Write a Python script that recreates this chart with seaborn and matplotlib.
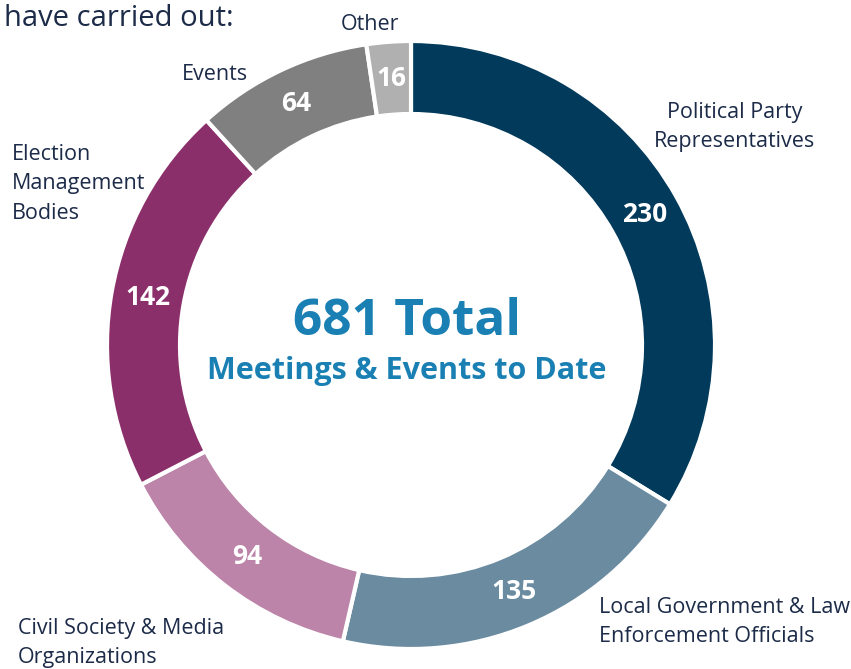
import matplotlib
matplotlib.use("Agg")
import matplotlib.pyplot as plt
import seaborn as sns
import numpy as np

categories = ["Political Party\nRepresentatives",
              "Local Government & Law\nEnforcement Officials",
              "Civil Society & Media\nOrganizations",
              "Election\nManagement\nBodies",
              "Events",
              "Other"]
values = [230, 135, 94, 142, 64, 16]
colors = ["#023a5c", "#6a8ba0", "#bc84a8", "#8b2f6b", "#808080", "#b0b0b0"]
title_text = "have carried out:"
center_big = "681 Total"
center_small = "Meetings & Events to Date"

sns.set_theme(style="white")
plt.rcParams['font.family'] = ['Open Sans', 'DejaVu Sans']

W, H = 851, 669
fig = plt.figure(figsize=(W / 100, H / 100), dpi=100)
ax = fig.add_axes([0, 0, 1, 1])

cx, cy = 411, H - 345
R = 304
width = 73
total = sum(values)

wedges, texts, autotexts = ax.pie(
    values, colors=colors, startangle=90, counterclock=False,
    center=(cx, cy), radius=R, frame=True,
    wedgeprops=dict(width=width, edgecolor="white", linewidth=3),
    autopct=lambda p: f"{round(p * total / 100):d}",
    pctdistance=(R - width / 2) / R)
for t in autotexts:
    t.set_color("white")
    t.set_fontsize(19)
    t.set_fontweight("bold")
ax.set_xlim(0, W)
ax.set_ylim(0, H)
ax.set_aspect("equal")
ax.axis("off")

txt_col = "#1c2b48"
lab_fs = 15.5
label_pos = [
    (735, 127, "center", "center"),
    (599, 622, "left", "center"),
    (18, 643, "left", "center"),
    (12, 184, "left", "center"),
    (215, 74, "center", "center"),
    (370, 24, "center", "center"),
]
for cat, (x, y, ha, va) in zip(categories, label_pos):
    ax.text(x, H - y, cat, ha=ha, va=va, fontsize=lab_fs, color=txt_col,
            linespacing=1.55)

ax.text(4, H - 19, title_text, ha="left", va="center", fontsize=21, color=txt_col)

blue = "#1a80b4"
ax.text(407, H - 322, center_big, ha="center", va="center", fontsize=37,
        fontweight="bold", color=blue)
ax.text(407, H - 371, center_small, ha="center", va="center", fontsize=22,
        fontweight="bold", color=blue)

fig.savefig("out.png", dpi=100)
